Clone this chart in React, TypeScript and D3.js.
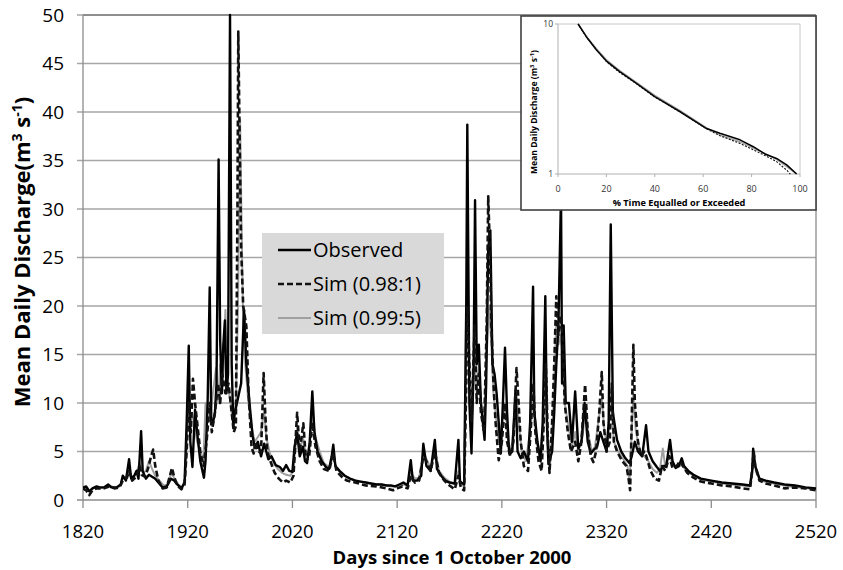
import React from "react";
import * as d3 from "d3";

// ---- Main hydrograph data (day, discharge m3/s) ----
const observed: [number, number][] = [
  [1820, 1.3], [1823, 1.4], [1826, 0.9], [1829, 1.2], [1833, 1.4], [1836, 1.3], [1840, 1.3], [1844, 1.6],
  [1847, 1.3], [1852, 1.3], [1856, 1.6], [1858, 2.5], [1861, 2.0], [1864, 4.2], [1866, 2.2], [1869, 2.5],
  [1871, 3.0], [1873, 2.2], [1875.5, 7.1], [1877, 3.0], [1880, 2.2], [1883, 2.6], [1886, 2.4], [1889, 2.2],
  [1892, 1.8], [1896, 1.3], [1900, 1.4], [1904, 2.2], [1907, 2.0], [1910, 1.6], [1914, 1.2], [1917, 1.8],
  [1919, 8], [1921, 15.9], [1922.5, 6], [1924.5, 3.4], [1927, 9.3], [1929, 7], [1932, 4], [1935.5, 2.3],
  [1937, 4], [1939, 10], [1941, 21.9], [1942.5, 8], [1944, 7.9], [1946, 9], [1947.5, 12], [1949.5, 35.1],
  [1951, 16.5], [1952.5, 11], [1954, 16], [1955.5, 18.5], [1957, 11], [1958.5, 13], [1960.4, 50],
  [1962, 14], [1963.6, 7.6], [1965, 9], [1967, 10], [1969, 11], [1971, 12], [1973.8, 19.6], [1976, 14],
  [1979, 10], [1982, 6.6], [1984, 5.4], [1987, 6], [1990, 4.5], [1993, 5.8], [1997, 4.2], [2000, 4.5],
  [2004, 3.6], [2008, 3.4], [2011, 3.0], [2014, 3.6], [2017, 3.0], [2020, 2.9], [2022, 5.5], [2024.5, 6.9],
  [2027, 4.5], [2030, 5.5], [2032, 4.0], [2034, 3.8], [2036.5, 6], [2039, 11.2], [2041, 7], [2044, 5],
  [2048, 4], [2052, 3.4], [2055, 3.2], [2057.5, 4.5], [2059, 5.7], [2061, 3.5], [2065, 3.0], [2070, 2.5],
  [2075, 2.2], [2080, 2.0], [2085, 1.9], [2090, 1.8], [2095, 1.7], [2100, 1.6], [2105, 1.6], [2110, 1.5],
  [2114, 1.5], [2118, 1.4], [2122, 1.6], [2126, 1.8], [2130, 1.5], [2133, 4.1], [2135, 2.0], [2139, 2.0],
  [2143, 2.5], [2145, 5.8], [2148, 3.5], [2152, 3.0], [2156, 6.2], [2158, 3.2], [2162, 2.5], [2166, 2.0],
  [2170, 1.8], [2175, 1.7], [2178.5, 6.2], [2180, 1.9], [2184, 1.6], [2186, 20], [2187, 38.7], [2189, 10],
  [2191, 4.8], [2193, 14], [2194.4, 30.9], [2196, 14], [2198, 16], [2200, 10], [2203.5, 6.2], [2205, 12],
  [2207, 26], [2209, 27.8], [2211, 14], [2213, 13], [2215, 11], [2217, 8], [2219, 4.8], [2221, 10],
  [2223, 15.7], [2225, 9], [2227, 4.8], [2230, 5], [2233, 11.3], [2235, 5], [2238, 4.3], [2241, 5],
  [2245, 4], [2247, 8], [2249.8, 22], [2251, 9], [2254, 6], [2257, 4], [2259, 8], [2261.5, 21], [2263, 8],
  [2264.5, 3.7], [2268, 5], [2270, 9], [2272, 14], [2274, 18], [2276.5, 31.5], [2277.5, 12], [2279, 18],
  [2281, 10], [2284, 10], [2287, 6], [2290, 11.2], [2293, 5.3], [2296, 6], [2299, 10], [2302, 6],
  [2305, 4.8], [2308, 5.2], [2311, 5.5], [2314, 7], [2317, 6], [2320, 5], [2322, 8], [2324, 28.4],
  [2326, 9], [2330, 6.2], [2334, 5.0], [2338, 4.3], [2342, 3.8], [2344, 4.5], [2347, 6.0], [2350, 5.0],
  [2354, 4.5], [2357.7, 7.7], [2360, 5], [2364, 4], [2368, 3.4], [2371, 3.0], [2374, 3.5], [2377, 3.5],
  [2380.6, 6.2], [2383, 4], [2386, 3.3], [2389, 3.5], [2391.8, 4.3], [2394, 3.5], [2398, 3.0], [2403, 2.6],
  [2410, 2.2], [2420, 2.0], [2430, 1.8], [2440, 1.7], [2450, 1.6], [2457, 1.5], [2459, 3], [2460, 5.3],
  [2462, 3.5], [2466, 2.2], [2472, 2.0], [2480, 1.8], [2490, 1.6], [2500, 1.5], [2510, 1.3], [2520, 1.2],
];

const sim098: [number, number][] = [
  [1820, 1.2], [1823, 1.0], [1826, 0.5], [1829, 1.0], [1833, 1.2], [1840, 1.2], [1845, 1.4], [1850, 1.2],
  [1855, 1.3], [1858, 2.0], [1862, 2.3], [1864, 3.0], [1867, 2.0], [1871, 2.4], [1874, 3.5], [1876, 2.6],
  [1879, 2.4], [1882, 3.2], [1885, 4.5], [1887, 5.2], [1889, 3.5], [1892, 2.0], [1896, 1.2], [1900, 1.3],
  [1903, 2.5], [1905, 3.3], [1907, 2.4], [1910, 1.5], [1914, 1.1], [1917, 1.6], [1919, 5], [1921, 10],
  [1923, 7], [1925, 12.5], [1927, 10], [1929, 8], [1932, 5], [1935, 3.5], [1938, 6], [1941, 10], [1943, 7],
  [1946, 9], [1949, 12], [1951, 10], [1953, 13], [1956, 11], [1959, 12], [1962, 9], [1964, 7], [1966, 7.6],
  [1967.5, 30], [1968.3, 48.3], [1969.5, 38], [1971, 26], [1973, 20], [1976, 17.9], [1978, 11.3],
  [1981, 5.4], [1983, 4.8], [1985, 6], [1987, 5], [1990, 4.9], [1992.5, 13.1], [1994, 9], [1996, 5],
  [1999, 4], [2003, 2.8], [2007, 2.2], [2011, 1.8], [2014, 2.0], [2018, 1.8], [2021, 2.5], [2024.5, 9],
  [2027, 5], [2030.4, 7.9], [2033, 4], [2036, 4.5], [2039, 8], [2042, 5.5], [2046, 4], [2050, 3.2],
  [2055, 3], [2059, 4.8], [2062, 3], [2067, 2.4], [2072, 2.0], [2080, 1.8], [2090, 1.5], [2100, 1.4],
  [2110, 1.2], [2116, 1.0], [2120, 1.2], [2125, 1.4], [2130, 1.2], [2133, 2.5], [2137, 1.8], [2141, 2.0],
  [2145, 4.5], [2148, 4.0], [2152, 3.0], [2156, 5], [2160, 2.8], [2165, 2.0], [2170, 1.5], [2175, 1.1],
  [2178.5, 2.5], [2181, 1.2], [2184, 1.0], [2186, 12], [2187, 20], [2189, 14], [2191, 8], [2194, 18],
  [2196, 10], [2198, 13], [2200, 9], [2203, 7], [2205.5, 18], [2207, 31.3], [2208.5, 26], [2210, 18],
  [2212, 12], [2214, 8], [2217, 4.1], [2220, 6], [2223, 10], [2225, 6], [2228, 4.5], [2231, 6],
  [2234, 13.6], [2236, 10], [2238, 6], [2241, 3.5], [2245, 3.0], [2248, 8], [2250, 12], [2252, 7],
  [2255, 4], [2258, 3.0], [2260, 8], [2262, 14], [2264, 6], [2265.5, 2.8], [2268, 8], [2270, 14],
  [2272, 21], [2274, 17], [2276, 19], [2278, 17], [2280, 10], [2283, 7], [2286, 5], [2290, 6], [2293, 4],
  [2296, 6], [2299.5, 11.9], [2302, 7], [2305, 4.5], [2307.4, 3.9], [2310, 5], [2313, 9], [2315.4, 13.2],
  [2317, 8], [2320, 5], [2323, 6], [2325, 12], [2327, 6], [2330, 5], [2335, 4], [2339, 3.5], [2341, 2.2],
  [2342.5, 1.0], [2344, 8], [2345.6, 16], [2347, 10], [2350, 6], [2353, 4.5], [2356, 5], [2358, 4.5],
  [2362, 3.0], [2366, 2.2], [2370, 2.0], [2373, 3.5], [2376, 3.0], [2380, 4.5], [2383, 3.3], [2387, 3.5],
  [2390, 4.0], [2393, 3.5], [2397, 2.8], [2403, 2.3], [2410, 1.9], [2420, 1.7], [2430, 1.5], [2440, 1.4],
  [2450, 1.2], [2457, 1.1], [2459, 3], [2460.5, 5.0], [2462, 3.5], [2466, 2.0], [2472, 1.7], [2480, 1.5],
  [2490, 1.2], [2500, 1.3], [2510, 1.2], [2520, 1.0],
];

const sim099: [number, number][] = [
  [1820, 1.3], [1826, 1.0], [1830, 1.2], [1835, 1.3], [1840, 1.2], [1845, 1.5], [1850, 1.3], [1855, 1.4],
  [1858, 2.2], [1862, 2.5], [1864, 3.0], [1867, 2.3], [1871, 2.8], [1874, 3.8], [1877, 2.8], [1880, 3.0],
  [1883, 4.0], [1886, 3.2], [1889, 2.5], [1893, 2.0], [1897, 1.5], [1901, 1.6], [1904, 2.8], [1907, 2.3],
  [1911, 1.6], [1915, 1.3], [1918, 2.5], [1920, 8.5], [1922, 7], [1924, 9], [1926, 8], [1929, 6], [1932, 5],
  [1935, 4], [1937, 10], [1939, 8], [1942, 9], [1944, 11], [1947, 13.6], [1949, 10], [1951, 14], [1953, 11],
  [1956, 19.6], [1958, 12], [1961, 10], [1963, 8], [1966, 10], [1968, 20], [1970, 39.2], [1971.5, 28],
  [1973, 18], [1975, 14], [1978, 10], [1981, 7.5], [1984, 6], [1987, 6.5], [1990, 7], [1993, 9.3],
  [1995, 6.5], [1998, 5], [2002, 3.8], [2006, 3.2], [2010, 2.8], [2014, 2.6], [2018, 2.5], [2021, 3],
  [2024.5, 7.5], [2027, 5], [2030, 6.5], [2033, 4.5], [2036, 5], [2039, 9], [2042, 6.5], [2046, 5],
  [2050, 3.8], [2055, 3.4], [2059, 4.5], [2062, 3.3], [2068, 2.6], [2075, 2.2], [2085, 1.9], [2095, 1.7],
  [2105, 1.6], [2115, 1.4], [2120, 1.4], [2126, 1.6], [2130, 1.5], [2133, 2.8], [2137, 2.2], [2141, 2.3],
  [2145, 5.0], [2148, 4.2], [2152, 3.3], [2156, 5.0], [2160, 3.0], [2165, 2.3], [2170, 1.9], [2175, 1.6],
  [2178.5, 3.0], [2181, 1.6], [2184, 1.4], [2186, 20], [2187, 22], [2189, 12], [2191, 7], [2194, 15],
  [2196, 11], [2198, 14], [2200, 10], [2203, 8], [2206, 16], [2208, 20], [2210, 16], [2212, 11],
  [2214, 9], [2217, 6], [2220, 8], [2223, 10], [2226, 6], [2229, 5], [2234, 11], [2236, 8], [2239, 5],
  [2243, 4], [2248, 8], [2250, 12], [2253, 6], [2256, 4.5], [2260, 8], [2262, 13], [2264, 6], [2266, 3.5],
  [2269, 9], [2272, 18.4], [2274, 16], [2276, 17], [2278, 15], [2280, 10], [2283, 8], [2287, 5.5],
  [2290, 7], [2293, 5], [2297, 6.5], [2300, 9.5], [2303, 6.5], [2306, 5], [2309, 5.5], [2312, 8],
  [2315.4, 10.5], [2318, 7], [2321, 5.5], [2324, 11], [2327, 6], [2331, 5], [2336, 4.2], [2340, 3.5],
  [2342, 1.8], [2344, 7], [2345.6, 11], [2348, 7], [2352, 5], [2356, 4.5], [2360, 4], [2364, 3.2],
  [2368, 2.8], [2371, 3.2], [2373.7, 5.3], [2376, 3.5], [2380, 4.5], [2384, 3.5], [2388, 3.4], [2392, 3.6],
  [2396, 3], [2403, 2.5], [2410, 2.1], [2420, 1.9], [2430, 1.7], [2440, 1.6], [2450, 1.5], [2457, 1.4],
  [2459, 2.5], [2460.5, 4.2], [2463, 2.8], [2467, 2.0], [2475, 1.8], [2485, 1.6], [2495, 1.4], [2505, 1.3],
  [2520, 1.1],
];

const xTicks = [1820, 1920, 2020, 2120, 2220, 2320, 2420, 2520];
const yTicks = [0, 5, 10, 15, 20, 25, 30, 35, 40, 45, 50];

// ---- Inset flow duration curves (% time exceeded, discharge) ----
const fdcObserved: [number, number][] = [
  [8.3, 10], [11.7, 8.23], [15.9, 6.71], [20.3, 5.61], [25.5, 4.81], [32.4, 4.02], [40, 3.28],
  [50.3, 2.61], [61.4, 2.01], [66.9, 1.87], [75.2, 1.69], [80.7, 1.52], [85.5, 1.36], [90.3, 1.27],
  [94.5, 1.15], [98.6, 1.0],
];
const fdcSim098: [number, number][] = [
  [8.3, 10], [11.7, 8.2], [15.9, 6.75], [20.3, 5.55], [25.5, 4.75], [32.4, 4.0], [40, 3.25],
  [50.3, 2.6], [61.4, 2.0], [66.9, 1.8], [75.2, 1.6], [80.7, 1.45], [85.5, 1.33], [90.3, 1.21],
  [94.5, 1.06], [96, 1.0],
];
const fdcSim099: [number, number][] = [
  [8.3, 10], [11.7, 8.3], [15.9, 6.85], [20.3, 5.72], [25.5, 4.9], [32.4, 4.08], [40, 3.35],
  [50.3, 2.66], [61.4, 2.03], [66.9, 1.82], [75.2, 1.64], [80.7, 1.49], [85.5, 1.37], [90.3, 1.25],
  [94.5, 1.12], [98.6, 1.0],
];
const insetXTicks = [0, 20, 40, 60, 80, 100];
const insetYTicks = [1, 10];

const FONT = "'Open Sans', 'DejaVu Sans', sans-serif";

export default function App() {
  const W = 843, H = 570;
  const x = d3.scaleLinear().domain([1820, 2520]).range([83, 816]);
  const y = d3.scaleLinear().domain([0, 50]).range([500, 15]);
  const line = d3.line<[number, number]>().x((d) => x(d[0])).y((d) => y(d[1]));

  // inset
  const ix = d3.scaleLinear().domain([0, 100]).range([558, 800]);
  const iy = d3.scaleLog().domain([1, 10]).range([174, 24]);
  const iline = d3.line<[number, number]>().x((d) => ix(d[0])).y((d) => iy(d[1]));

  return (
    <svg width={W} height={H} style={{ position: "absolute", left: 0, top: 0 }} fontFamily={FONT}>
      <rect width={W} height={H} fill="#fff" />
      <defs>
        <clipPath id="plotClip">
          <rect x={83} y={10} width={734} height={492} />
        </clipPath>
      </defs>
      {/* gridlines */}
      {yTicks.map((t) => (
        <line key={t} x1={77} x2={816} y1={y(t)} y2={y(t)} stroke={t === 0 ? "#8c8c8c" : "#a6a6a6"} strokeWidth={1.3} />
      ))}
      <line x1={83} x2={816} y1={y(50)} y2={y(50)} stroke="#7f7f7f" strokeWidth={1.3} />
      <line x1={83} x2={83} y1={15} y2={500} stroke="#8c8c8c" strokeWidth={1.3} />
      <line x1={816} x2={816} y1={15} y2={500} stroke="#8c8c8c" strokeWidth={1.3} />
      {xTicks.map((t) => (
        <line key={t} x1={x(t)} x2={x(t)} y1={500} y2={508} stroke="#8c8c8c" strokeWidth={1.3} />
      ))}
      {/* tick labels */}
      {yTicks.map((t) => (
        <text key={t} x={64} y={y(t)} dy="0.36em" textAnchor="end" fontSize={19} fill="#000">{t}</text>
      ))}
      {xTicks.map((t) => (
        <text key={t} x={x(t)} y={538} textAnchor="middle" fontSize={18.5} fill="#000">{t}</text>
      ))}
      {/* axis titles */}
      <text x={452} y={564} textAnchor="middle" fontSize={18.5} fontWeight="bold">Days since 1 October 2000</text>
      <text transform="translate(30,252) rotate(-90)" textAnchor="middle" fontSize={22} fontWeight="bold">
        Mean Daily Discharge(m<tspan fontSize={14} dy={-8}>3</tspan><tspan dy={8}> s</tspan><tspan fontSize={14} dy={-8}>-1</tspan><tspan dy={8}>)</tspan>
      </text>

      {/* series */}
      <g clipPath="url(#plotClip)" fill="none" strokeLinejoin="round">
        <path d={line(sim099) || ""} stroke="#a0a0a0" strokeWidth={2} />
        <path d={line(observed) || ""} stroke="#000" strokeWidth={2.4} />
        <path d={line(sim098) || ""} stroke="#111" strokeWidth={2.6} strokeDasharray="6,3" />
      </g>

      {/* legend */}
      <rect x={262} y={233} width={182} height={101} fill="#d9d9d9" />
      <line x1={278} x2={311} y1={250} y2={250} stroke="#000" strokeWidth={2.4} />
      <text x={313} y={250} dy="0.36em" fontSize={20}>Observed</text>
      <line x1={278} x2={311} y1={284} y2={284} stroke="#111" strokeWidth={2.6} strokeDasharray="6,3" />
      <text x={313} y={284} dy="0.36em" fontSize={20}>Sim (0.98:1)</text>
      <line x1={278} x2={311} y1={318} y2={318} stroke="#a0a0a0" strokeWidth={2} />
      <text x={313} y={318} dy="0.36em" fontSize={20}>Sim (0.99:5)</text>

      {/* inset */}
      <rect x={521} y={16} width={295} height={194} fill="#fff" stroke="#404040" strokeWidth={1.6} />
      <line x1={ix(0)} x2={ix(100)} y1={iy(10)} y2={iy(10)} stroke="#c8c8c8" strokeWidth={1} />
      <line x1={ix(100)} x2={ix(100)} y1={iy(10)} y2={iy(1)} stroke="#c8c8c8" strokeWidth={1} />
      <line x1={ix(0)} x2={ix(0)} y1={iy(10)} y2={iy(1)} stroke="#b0b0b0" strokeWidth={1} />
      <line x1={ix(0)} x2={ix(100)} y1={iy(1)} y2={iy(1)} stroke="#b0b0b0" strokeWidth={1} />
      {insetYTicks.map((t) => (
        <g key={t}>
          <line x1={ix(0) - 3} x2={ix(0)} y1={iy(t)} y2={iy(t)} stroke="#b0b0b0" />
          <text x={ix(0) - 5} y={iy(t)} dy="0.35em" textAnchor="end" fontSize={8.5} fill="#333">{t}</text>
        </g>
      ))}
      {insetXTicks.map((t) => (
        <g key={t}>
          <line x1={ix(t)} x2={ix(t)} y1={iy(1)} y2={iy(1) + 3} stroke="#b0b0b0" />
          <text x={ix(t)} y={192} textAnchor="middle" fontSize={9} fill="#333">{t}</text>
        </g>
      ))}
      <text x={679} y={206} textAnchor="middle" fontSize={9.2} fontWeight="bold">% Time Equalled or Exceeded</text>
      <text transform="translate(537,112) rotate(-90)" textAnchor="middle" fontSize={8.6} fontWeight="bold">
        Mean Daily Discharge (m<tspan fontSize={5.8} dy={-3.5}>3</tspan><tspan dy={3.5}> s</tspan><tspan fontSize={5.8} dy={-3.5}>-1</tspan><tspan dy={3.5}>)</tspan>
      </text>
      <g fill="none" strokeLinejoin="round">
        <path d={iline(fdcSim099) || ""} stroke="#a6a6a6" strokeWidth={1.4} />
        <path d={iline(fdcObserved) || ""} stroke="#000" strokeWidth={1.5} />
        <path d={iline(fdcSim098) || ""} stroke="#111" strokeWidth={1.1} strokeDasharray="2,1.5" />
      </g>
    </svg>
  );
}
